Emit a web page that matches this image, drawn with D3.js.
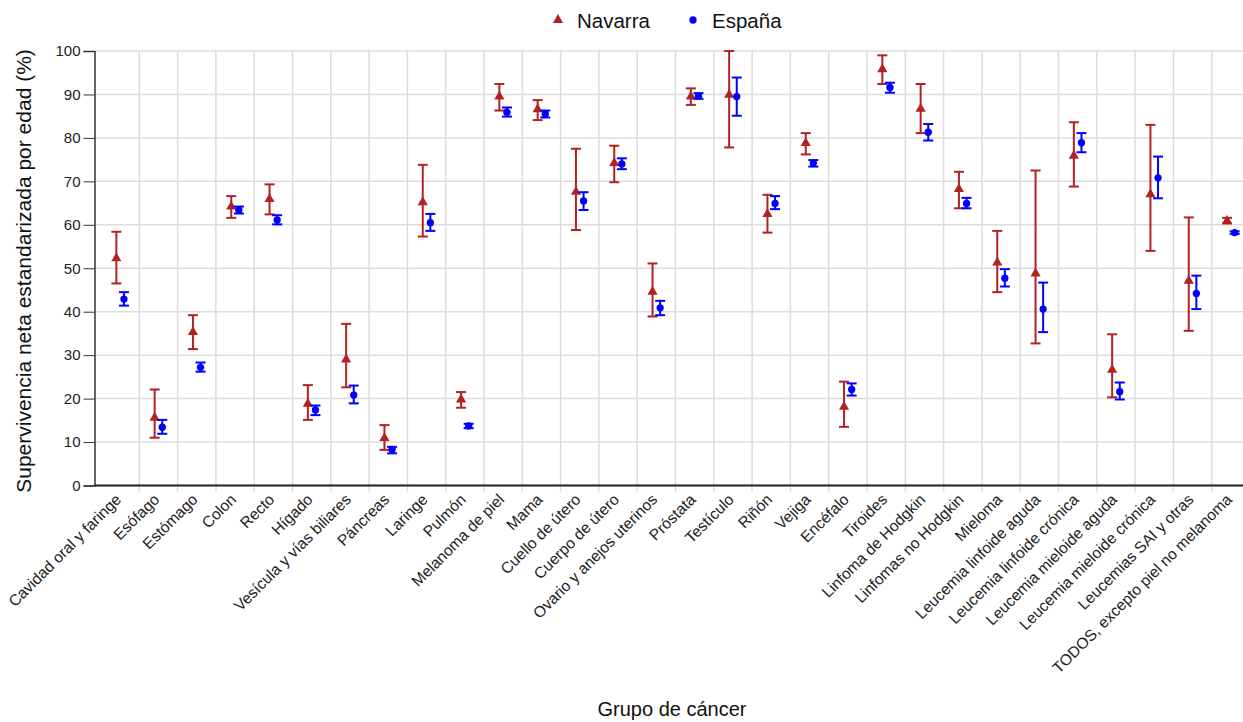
<!DOCTYPE html>
<html><head><meta charset="utf-8">
<script src="https://cdn.jsdelivr.net/npm/d3@7"></script>
<style>body{margin:0;background:#fff}svg{display:block;font-family:"Liberation Sans",Arial,sans-serif}</style>
</head><body><div id="chart"></div>
<script>
const categories = ["Cavidad oral y faringe","Esófago","Estómago","Colon","Recto","Hígado","Vesícula y vías biliares","Páncreas","Laringe","Pulmón","Melanoma de piel","Mama","Cuello de útero","Cuerpo de útero","Ovario y anejos uterinos","Próstata","Testículo","Riñón","Vejiga","Encéfalo","Tiroides","Linfoma de Hodgkin","Linfomas no Hodgkin","Mieloma","Leucemia linfoide aguda","Leucemia linfoide crónica","Leucemia mieloide aguda","Leucemia mieloide crónica","Leucemias SAI y otras","TODOS, excepto piel no melanoma"];
const navarraValue = [52.3,15.6,35.3,64.2,65.9,18.8,29.0,10.9,65.2,19.8,89.5,86.6,67.6,74.2,44.6,89.5,89.9,62.5,78.8,18.1,95.8,86.7,68.2,51.3,48.8,75.9,26.6,67.0,47.1,60.9];
const navarraLow   = [46.5,11.0,31.4,61.6,62.4,15.1,22.6,8.2,57.3,17.9,86.3,84.1,58.8,69.8,38.9,87.6,77.8,58.2,76.2,13.5,92.4,81.1,63.8,44.5,32.7,68.8,20.3,54.0,35.6,60.3];
const navarraHigh  = [58.4,22.1,39.2,66.6,69.3,23.1,37.2,13.9,73.8,21.5,92.4,88.7,77.5,78.2,51.1,91.4,100.0,66.9,81.1,23.9,99.0,92.4,72.2,58.6,72.5,83.6,34.8,83.0,61.7,61.6];
const espanaValue = [42.9,13.4,27.2,63.4,61.1,17.4,20.8,8.3,60.5,13.7,85.9,85.5,65.5,74.0,40.9,89.6,89.5,64.9,74.2,22.1,91.6,81.3,64.9,47.7,40.6,78.9,21.6,70.8,44.2,58.2];
const espanaLow   = [41.4,11.9,26.2,62.6,60.1,16.2,18.9,7.4,58.6,13.2,84.9,84.7,63.4,72.8,39.2,89.0,85.1,63.6,73.4,20.7,90.4,79.4,63.8,45.8,35.3,76.7,19.8,66.1,40.6,57.9];
const espanaHigh  = [44.5,15.1,28.3,64.2,62.2,18.4,23.0,8.9,62.5,14.2,87.0,86.3,67.5,75.3,42.5,90.3,93.9,66.6,74.9,23.5,92.7,83.2,66.2,49.8,46.7,81.1,23.7,75.7,48.3,58.5];
const yTicks = [0,10,20,30,40,50,60,70,80,90,100];
const seriesNames = ["Navarra","España"];

const W = 1243, H = 722;
const svg = d3.select("#chart").append("svg").attr("width", W).attr("height", H);
const axisX = 94.5, plotTop = 51, plotBottom = 485.5;
const x = d3.scaleBand().domain(categories).range([101, 1250]);
const y = d3.scaleLinear().domain([0,100]).range([plotBottom, plotTop]);
const grid = "#dcdcdc";

svg.append("g").selectAll("line").data(yTicks).join("line")
  .attr("x1", axisX).attr("x2", W).attr("y1", d=>y(d)).attr("y2", d=>y(d))
  .attr("stroke", grid).attr("stroke-width", 1.5);
svg.append("g").selectAll("line").data(categories.slice(1)).join("line")
  .attr("x1", d=>x(d)).attr("x2", d=>x(d)).attr("y1", plotTop).attr("y2", plotBottom + 6)
  .attr("stroke", grid).attr("stroke-width", 1.5);

const yAxis = svg.append("g").attr("transform", `translate(${axisX},0)`)
  .call(d3.axisLeft(y).tickValues(yTicks).tickSize(11).tickPadding(3));
yAxis.select(".domain").attr("stroke", "#333").attr("stroke-width", 1.5);
yAxis.selectAll(".tick line").attr("stroke", "#333");
yAxis.selectAll("text").attr("font-size", 15).attr("fill", "#222").attr("font-family", "Liberation Sans, Arial, sans-serif");

svg.append("line").attr("x1", axisX).attr("x2", W).attr("y1", plotBottom).attr("y2", plotBottom)
  .attr("stroke", "#222").attr("stroke-width", 2);

svg.append("g").selectAll("text").data(categories).join("text")
  .attr("transform", d => `translate(${x(d) + x.bandwidth()/2 + 2},${plotBottom + 15}) rotate(-45)`)
  .attr("text-anchor", "end").attr("font-size", 15.6).attr("fill", "#222").text(d=>d);

svg.append("text").attr("transform", `translate(31,271) rotate(-90)`)
  .attr("text-anchor", "middle").attr("font-size", 21).attr("fill", "#111")
  .text("Supervivencia neta estandarizada por edad (%)");
svg.append("text").attr("x", 672).attr("y", 716).attr("text-anchor", "middle")
  .attr("font-size", 20).attr("fill", "#111").text("Grupo de cáncer");

const series = [
  {name: seriesNames[0], v: navarraValue, lo: navarraLow, hi: navarraHigh, color: "#b22222", dx: -3.8, shape: d3.symbolTriangle, size: 45},
  {name: seriesNames[1], v: espanaValue, lo: espanaLow, hi: espanaHigh, color: "#0000ff", dx: 3.8, shape: d3.symbolCircle, size: 42}
];
series.forEach(s => {
  const g = svg.append("g");
  const data = categories.map((c,i) => ({c, v: s.v[i], lo: s.lo[i], hi: s.hi[i]}));
  const cx = d => x(d.c) + x.bandwidth()/2 + s.dx;
  g.selectAll(".v").data(data).join("line").attr("class","v").attr("x1", cx).attr("x2", cx)
    .attr("y1", d=>y(d.lo)).attr("y2", d=>y(d.hi)).attr("stroke", s.color).attr("stroke-width", 2);
  ["lo","hi"].forEach(k => {
    g.selectAll(".c"+k).data(data).join("line").attr("class","c"+k).attr("x1", d=>cx(d)-5).attr("x2", d=>cx(d)+5)
      .attr("y1", d=>y(d[k])).attr("y2", d=>y(d[k])).attr("stroke", s.color).attr("stroke-width", 2);
  });
  g.selectAll("path").data(data).join("path")
    .attr("d", d3.symbol().type(s.shape).size(s.size))
    .attr("transform", d => `translate(${cx(d)},${y(d.v)})`).attr("fill", s.color);
});

const leg = svg.append("g");
const legItems = [{x: 558, tx: 577}, {x: 693, tx: 712}];
series.forEach((s,i) => {
  leg.append("path").attr("d", d3.symbol().type(s.shape).size(s.size))
    .attr("transform", `translate(${legItems[i].x},20)`).attr("fill", s.color);
  leg.append("text").attr("x", legItems[i].tx).attr("y", 28).attr("font-size", 20.5).attr("fill", "#111").text(s.name);
});
</script></body></html>
